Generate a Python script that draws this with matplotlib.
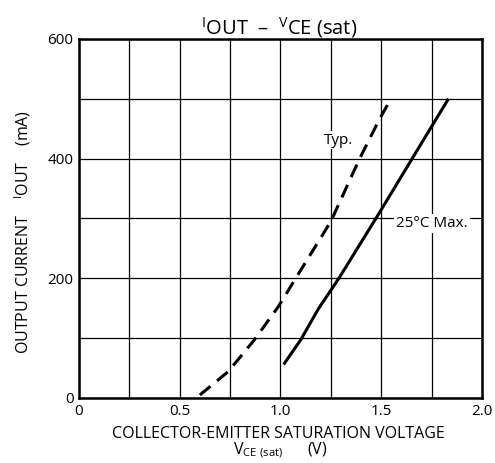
import matplotlib
matplotlib.use("Agg")
import matplotlib.pyplot as plt

plt.rcParams['font.family'] = ['Open Sans', 'DejaVu Sans']
plt.rcParams['mathtext.fontset'] = 'custom'
plt.rcParams['mathtext.rm'] = 'Open Sans'

# data
typ_v = [0.60, 0.74, 0.87, 0.99, 1.07, 1.25, 1.39, 1.49, 1.55]
typ_i = [5, 44, 97, 153, 197, 295, 398, 465, 501]
max_v = [1.02, 1.10, 1.19, 1.29, 1.49, 1.65, 1.83]
max_i = [58, 97, 150, 200, 309, 398, 498]

x_ticks = [0, 0.5, 1.0, 1.5, 2.0]
x_tick_labels = ['0', '0.5', '1.0', '1.5', '2.0']
y_ticks = [0, 200, 400, 600]

fig = plt.figure(figsize=(4.95, 4.63), dpi=100)
ax = fig.add_axes([0.1596, 0.1404, 0.814, 0.7754])

ax.plot(typ_v, typ_i, color='black', lw=2.2, dashes=(4.5, 2.8))
ax.plot(max_v, max_i, color='black', lw=2.2)

ax.set_xlim(0, 2.0)
ax.set_ylim(0, 600)
ax.set_xticks([i * 0.25 for i in range(9)])
ax.set_yticks(range(0, 601, 100))
ax.grid(True, color='black', lw=0.9)
ax.set_xticklabels([x_tick_labels[i // 2] if i % 2 == 0 else '' for i in range(9)])
ax.set_yticklabels([str(v) if v in y_ticks else '' for v in range(0, 601, 100)])
ax.tick_params(length=0, labelsize=11, pad=4)
for s in ax.spines.values():
    s.set_linewidth(1.8)

ax.text(1.29, 431, 'Typ.', fontsize=11, ha='center', va='center',
        bbox=dict(fc='white', ec='none', pad=1))
ax.text(1.75, 292, '25°C Max.', fontsize=11, ha='center', va='center',
        bbox=dict(fc='white', ec='none', pad=1.5))

fig.text(0.563, 0.94, r'$^{\mathrm{I}}$OUT  –  $^{\mathrm{V}}$CE (sat)', fontsize=14.5, ha='center', va='center')
fig.text(0.562, 0.062, 'COLLECTOR-EMITTER SATURATION VOLTAGE', fontsize=11.5, ha='center', va='center')
fig.text(0.566, 0.027, r'V$_{\mathrm{CE\ (sat)}}$      (V)', fontsize=11.5, ha='center', va='center')
fig.text(0.045, 0.5, r'OUTPUT CURRENT    $^{\mathrm{I}}$OUT    (mA)', fontsize=11.5,
         ha='center', va='center', rotation=90)

fig.savefig('out.png', dpi=100)
